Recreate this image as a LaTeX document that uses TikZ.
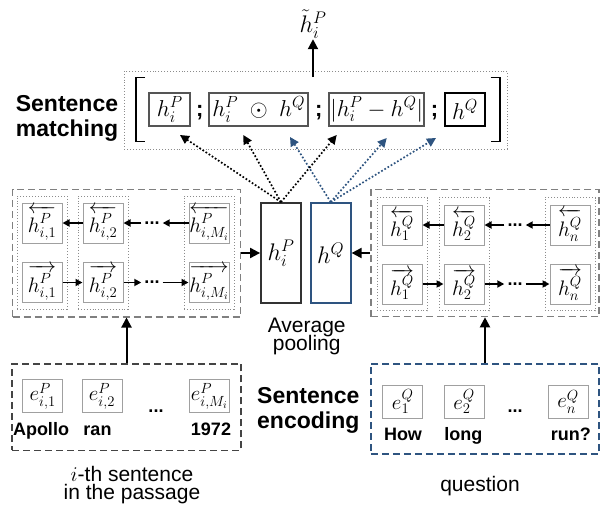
\RequirePackage{fix-cm}
\documentclass[tikz,border=0pt]{standalone}
\usepackage{fontspec}
\setmainfont{Liberation Sans}
\usetikzlibrary{arrows.meta}
\definecolor{qblue}{RGB}{46,84,128}
\definecolor{dashgray}{RGB}{128,128,128}
\definecolor{encgray}{RGB}{68,68,68}
\definecolor{boxgray}{RGB}{160,160,160}
\definecolor{dotgray}{RGB}{140,140,140}
\definecolor{catgray}{RGB}{85,85,85}
\newcommand\tightlines{\lineskiplimit=-20pt\relax}
\newcommand\hstrut{\rule{0pt}{0.98em}}
\tikzset{
	hbox/.style={draw=boxgray,line width=1pt,minimum width=40pt,minimum height=40pt,inner sep=0pt,font=\fontsize{21}{24}\selectfont},
	ebox/.style={hbox,minimum height=33pt,font=\fontsize{21}{24}\selectfont},
	colbox/.style={draw=dotgray,dotted,line width=0.9pt,minimum width=50pt,minimum height=113pt,inner sep=0pt},
	encbox/.style={dash pattern=on 7pt off 4pt,line width=1.6pt,inner sep=0pt},
	catbox/.style={draw=catgray,line width=1.8pt,minimum height=33pt,inner sep=0pt,font=\fontsize{23}{26}\selectfont},
	poolbox/.style={line width=1.8pt,minimum width=40pt,minimum height=100pt,inner sep=0pt,font=\fontsize{24}{28}\selectfont},
	wordtxt/.style={anchor=base,inner sep=0pt,font=\bfseries\fontsize{18}{22}\selectfont},
	dotstxt/.style={inner sep=3pt,font=\bfseries\fontsize{18}{22}\selectfont},
	headtxt/.style={align=center,inner sep=0pt,font=\bfseries\fontsize{23}{25}\selectfont},
	captxt/.style={align=center,inner sep=0pt,font=\fontsize{21}{18}\selectfont\tightlines},
	rnnarrow/.style={line width=1.7pt,-{Triangle[length=7pt,width=7pt]}},
	feedarrow/.style={line width=2pt,-{Triangle[length=10pt,width=10pt]}},
	mixarrow/.style={dotted,line width=1.7pt,-{Triangle[length=9pt,width=9pt]}},
}
\begin{document}
\begin{tikzpicture}[x=1pt,y=-1pt]
	\useasboundingbox (0,0) rectangle (606,512);
	% sentence matching
	\node[draw=dotgray,dotted,line width=0.9pt,minimum width=383pt,minimum height=78pt] (match) at (315.8,110) {};
	\draw[line width=1.5pt] (145,77.3) -| (136,141.7) -- (145,141.7);
	\draw[line width=1.5pt] (490.7,77.3) -| (500,141.7) -- (490.7,141.7);
	\node[catbox,minimum width=40.7pt] (c1) at (169.7,109.5) {$h_i^P$};
	\node[catbox,minimum width=99pt] (c2) at (258.8,109.5) {$h_i^P \;\odot\; h^Q$};
	\node[catbox,minimum width=94.7pt] (c3) at (376.7,109.5) {$|h_i^P - h^Q|$};
	\node[catbox,draw=black,minimum width=40pt] (c4) at (465,109.5) {$h^Q$};
	\foreach \x [count=\j] in {199.7,318.8,434.5}
		\node[anchor=base,inner sep=0pt,font=\bfseries\fontsize{22}{26}\selectfont] (semi\j) at (\x,116) {;};
	\node[inner sep=1pt,font=\fontsize{24}{28}\selectfont] (ht) at (313,24) {$\tilde{h}_i^P$};
	\coordinate (mtop) at (313,77);
	\draw[feedarrow] (mtop) -- (ht);
	\node[headtxt] (smatch) at (67,118.2) {Sentence\\matching};
	% passage sentence states
	\node[encbox,draw=dashgray,minimum width=228pt,minimum height=127.4pt] (pbi) at (126.5,253) {};
	\foreach \x/\s [count=\j] in {42/1,103/2,209/M_i}{
		\node[colbox] (pc\j) at (\x,252.5) {};
		\node[hbox] (pl\j) at (\x,223) {$\overleftarrow{\hstrut h^P_{i,\s}}$};
		\node[hbox] (pr\j) at (\x,282.5) {$\overrightarrow{\hstrut h^P_{i,\s}}$};
	}
	\node[dotstxt] (pld) at (152,223) {...};
	\node[dotstxt] (prd) at (152,282.5) {...};
	\draw[rnnarrow] (pl2) -- (pl1);
	\draw[rnnarrow] (pl3) -- (pld);
	\draw[rnnarrow] (pld) -- (pl2);
	\draw[rnnarrow] (pr1) -- (pr2);
	\draw[rnnarrow] (pr2) -- (prd);
	\draw[rnnarrow] (prd) -- (pr3);
	% question states
	\node[encbox,draw=dashgray,minimum width=228.3pt,minimum height=127pt] (qbi) at (485,253) {};
	\foreach \x/\s [count=\j] in {402/1,464/2,570/n}{
		\node[colbox] (qc\j) at (\x,254.3) {};
		\node[hbox] (ql\j) at (\x,225) {$\overleftarrow{\hstrut h^Q_{\s}}$};
		\node[hbox] (qr\j) at (\x,284) {$\overrightarrow{\hstrut h^Q_{\s}}$};
	}
	\node[dotstxt] (qld) at (515,225) {...};
	\node[dotstxt] (qrd) at (515,284) {...};
	\draw[rnnarrow] (ql2) -- (ql1);
	\draw[rnnarrow] (ql3) -- (qld);
	\draw[rnnarrow] (qld) -- (ql2);
	\draw[rnnarrow] (qr1) -- (qr2);
	\draw[rnnarrow] (qr2) -- (qrd);
	\draw[rnnarrow] (qrd) -- (qr3);
	% average pooling
	\node[poolbox,draw=black!80] (hp) at (281,253) {$h_i^P$};
	\node[poolbox,draw=qblue] (hq) at (330.7,253) {$h^Q$};
	\draw[feedarrow] (pbi.east) -- (hp.west);
	\draw[feedarrow] (qbi.west) -- (hq.east);
	\node[captxt] (pool) at (306.7,336.9) {Average\\pooling};
	\coordinate (pt1) at (180,135);
	\coordinate (pt2) at (243.3,135);
	\coordinate (pt3) at (336.7,135);
	\coordinate (qt1) at (290,137);
	\coordinate (qt2) at (386.7,138);
	\coordinate (qt3) at (436,138);
	\foreach \k in {1,2,3}{
		\draw[mixarrow] (hp.north) -- (pt\k);
		\draw[mixarrow,qblue] (hq.north) -- (qt\k);
	}
	% sentence encoding
	\node[encbox,draw=encgray,minimum width=229pt,minimum height=86.5pt] (penc) at (126.5,407.2) {};
	\foreach \x/\s [count=\j] in {42.7/{i,1},102/{i,2},209.3/{i,M_i}}
		\node[ebox] (pe\j) at (\x,396) {$e^P_{\s}$};
	\node[wordtxt] (pdots) at (156,412) {...};
	\node[wordtxt] (pw1) at (41,435) {Apollo};
	\node[wordtxt] (pw2) at (97.5,435) {ran};
	\node[wordtxt] (pw3) at (211,435) {1972};
	\draw[feedarrow] (penc.north) -- (penc.north |- pbi.south);
	\node[encbox,draw=qblue,minimum width=228.3pt,minimum height=90pt] (qenc) at (485,409) {};
	\foreach \x/\s [count=\j] in {402.7/1,464/2,568/n}
		\node[ebox] (qe\j) at (\x,401.7) {$e^Q_{\s}$};
	\node[wordtxt] (qdots) at (515,412) {...};
	\node[wordtxt] (qw1) at (403,440) {How};
	\node[wordtxt] (qw2) at (463.4,440) {long};
	\node[wordtxt] (qw3) at (570.8,440) {run?};
	\draw[feedarrow] (qenc.north) -- (qenc.north |- qbi.south);
	\node[headtxt] (senc) at (308.3,410.5) {Sentence\\encoding};
	\node[captxt] (pcap) at (132,485.4) {$i$-th sentence\\in the passage};
	\node[anchor=base,inner sep=0pt,font=\fontsize{21}{24}\selectfont] (qcap) at (480,491.7) {question};
\end{tikzpicture}
\end{document}
